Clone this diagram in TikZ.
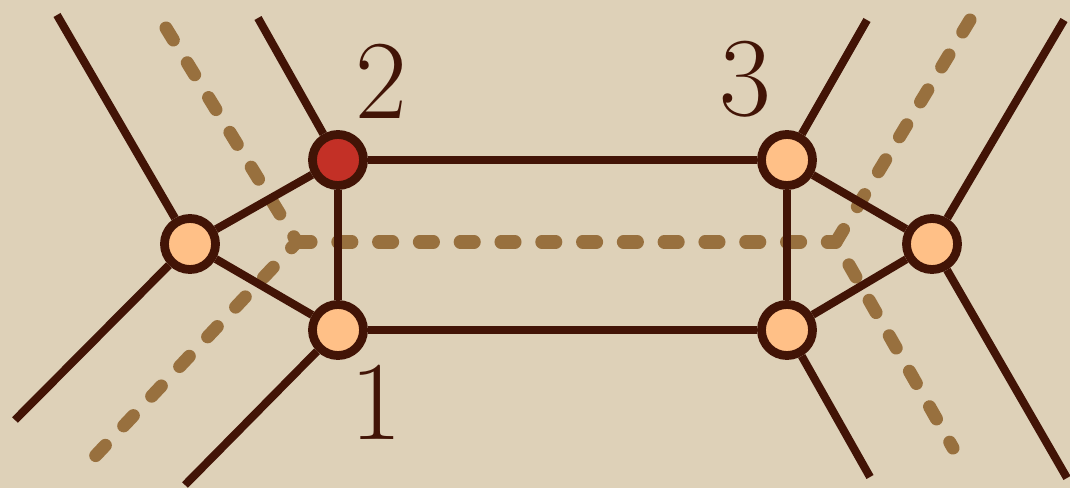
\documentclass[tikz,border=0pt]{standalone}
\usepackage{xcolor}
\definecolor{bgc}{RGB}{222,209,184}
\definecolor{edgec}{RGB}{66,20,6}
\definecolor{peach}{RGB}{255,192,135}
\definecolor{redn}{RGB}{195,48,38}
\definecolor{dashc}{RGB}{152,112,62}
\tikzset{
  vert/.style={circle, draw=edgec, line width=2.5pt, fill=peach, minimum size=0.51cm, inner sep=0pt},
  redvert/.style={vert, fill=redn},
  edge/.style={draw=edgec, line width=2.3pt},
  dline/.style={draw=dashc, line width=3.7pt, line cap=round, line join=round, dash pattern=on 4pt off 7.6pt},
  lbl/.style={text=edgec, font=\fontsize{32}{38}\selectfont, inner sep=0pt}
}
\begin{document}
\begin{tikzpicture}[x=0.01cm,y=-0.01cm]
\useasboundingbox (0,0) rectangle (1070,488);
\fill[bgc] (0,0) rectangle (1070,488);
% dashed path coordinates
\coordinate (cL) at (297,242);
\coordinate (cR) at (836,242);
\coordinate (dTL) at (166,28);
\coordinate (dBL) at (84,468);
\coordinate (dTR) at (970,20);
\coordinate (dBR) at (953,448);
\draw[dline] (dTL) -- (cL) -- (dBL);
\draw[dline] (cL) -- (cR);
\draw[dline] (dTR) -- (cR) -- (dBR);
% vertices
\node[vert] (L) at (190,244) {};
\node[redvert] (n2) at (338,160) {};
\node[vert] (n1) at (338,330) {};
\node[vert] (n3) at (787,160) {};
\node[vert] (BR) at (787,330) {};
\node[vert] (R) at (932,244) {};
% external ends
\coordinate (eLT) at (57,15);
\coordinate (eLB) at (15,420);
\coordinate (e2) at (258,18);
\coordinate (e1) at (185,485);
\coordinate (e3) at (867,20);
\coordinate (eBR) at (870,477);
\coordinate (eRT) at (1064,20);
\coordinate (eRB) at (1067,478);
\path[edge] (L) -- (eLT);
\path[edge] (L) -- (eLB);
\path[edge] (n2) -- (e2);
\path[edge] (n1) -- (e1);
\path[edge] (n3) -- (e3);
\path[edge] (BR) -- (eBR);
\path[edge] (R) -- (eRT);
\path[edge] (R) -- (eRB);
\path[edge] (L) -- (n2);
\path[edge] (L) -- (n1);
\path[edge] (n2) -- (n1);
\path[edge] (n2) -- (n3);
\path[edge] (n1) -- (BR);
\path[edge] (n3) -- (BR);
\path[edge] (n3) -- (R);
\path[edge] (BR) -- (R);
% labels
\node[lbl] (t2) at (381,81) {2};
\node[lbl] (t3) at (745,79) {3};
\node[lbl] (t1) at (376,402) {1};
\end{tikzpicture}
\end{document}
